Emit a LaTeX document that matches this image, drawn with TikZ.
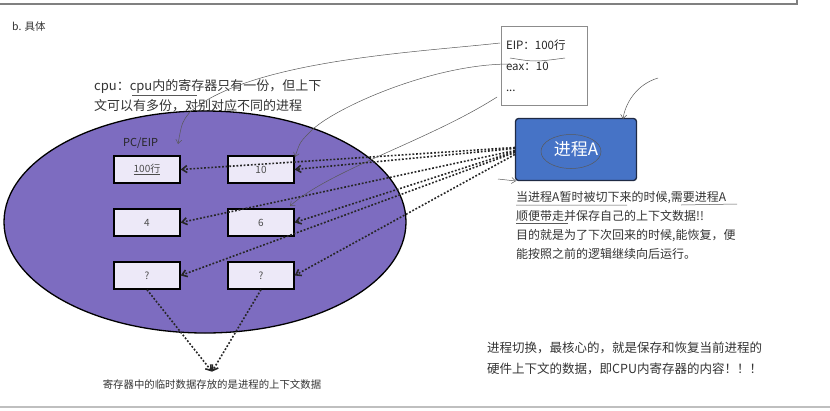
\documentclass[tikz,border=0pt]{standalone}
\usepackage{fontspec}
\setmainfont{Noto Sans CJK SC}
\usetikzlibrary{positioning, arrows.meta, shapes.geometric}
\definecolor{cpupurple}{HTML}{7D6CC0}
\definecolor{reglilac}{HTML}{EDE9F8}
\definecolor{procblue}{HTML}{4673C6}
\definecolor{procdark}{HTML}{1F2A44}
\definecolor{textgray}{HTML}{333333}

\begin{document}
\begin{tikzpicture}[x=1pt, y=-1pt, node distance=53pt and 114pt, on grid,
    reg/.style={draw=black, line width=1.3pt, fill=reglilac, minimum width=66pt,
      minimum height=27pt, inner sep=0pt, font=\fontsize{10}{10}\selectfont, text=black!70},
    ctx/.style={-{Straight Barb[length=5pt, width=7pt]}, dash pattern=on 1.8pt off 1.8pt,
      line width=1.6pt, black!85},
    note/.style={align=left, inner sep=0pt, anchor=north west, text=textgray},
    scribble/.style={draw=black!65, line width=0.5pt},
    hook/.style={scribble, -{Straight Barb[length=4pt, width=6pt]}}]
  \useasboundingbox (0,0) rectangle (830,410);

  % frame of the page
  \draw[black!50, line width=1.2pt] (0,4) -- (797,4) -- (797,0);
  \draw[black!25, line width=2pt] (0,407) -- (830,407);

  \node[note, anchor=west, font=\fontsize{10.5}{10.5}\selectfont] (title) at (12,27) {b. 具体};
  \node[note, font=\fontsize{13}{20}\selectfont] (cpunote) at (94,79.5)
    {cpu：cpu内的寄存器只有一份，但上下\\文可以有多份，对别对应不同的进程};

  % the cpu and its registers
  \node[ellipse, draw=black, line width=1.3pt, fill=cpupurple, minimum width=402pt,
    minimum height=222pt] (cpu) at (205,222) {};
  \node[note, anchor=west, font=\fontsize{11}{11}\selectfont, text=black!85] (pclabel) at (123,143) {PC/EIP};
  \node[reg] (reg1) at (147,169.5) {\underline{100行}};
  \node[reg] (reg2) [right=of reg1] {10};
  \node[reg] (reg3) [below=of reg1] {4};
  \node[reg] (reg4) [right=of reg3] {6};
  \node[reg] (reg5) [below=of reg3] {?};
  \node[reg] (reg6) [right=of reg5] {?};
  \node[font=\fontsize{10.4}{10.4}\selectfont, text=textgray] (ctxnote) at (212,385)
    {寄存器中的临时数据存放的是进程的上下文数据};

  % saved context and process
  \node[draw=black!45, line width=0.8pt, minimum width=86pt, minimum height=79pt,
    text width=76pt, align=left, font=\fontsize{11.5}{21}\selectfont, text=black!85]
    (ctxbox) at (544,66) {EIP：100行\\eax：10\\...};
  \node[draw=procdark, fill=procblue, line width=1.3pt, rounded corners=3pt,
    minimum width=121pt, minimum height=62pt, text=white,
    font=\fontsize{17}{17}\selectfont] (procA) at (576,149.5) {进程A};
  \node[note, font=\fontsize{12}{19}\selectfont] (savenote) at (516,191.5)
    {当进程A暂时被切下来的时候,需要进程A\\顺便带走并保存自己的上下文数据!!\\
     目的就是为了下次回来的时候,能恢复，便\\能按照之前的逻辑继续向后运行。};
  \node[note, font=\fontsize{12.5}{21}\selectfont] (switchnote) at (487,342)
    {进程切换，最核心的，就是保存和恢复当前进程的\\硬件上下文的数据，即CPU内寄存器的内容！！！};

  % context goes into the registers
  \path[ctx]
    ([yshift=2pt]procA.west) edge (reg1.east)
    ([yshift=1pt]procA.west) edge (reg2.east)
    ([yshift=-1pt]procA.west) edge (reg3.east)
    ([yshift=-2pt]procA.west) edge (reg4.east)
    ([yshift=-3pt]procA.west) edge (reg5.east)
    ([yshift=-5pt]procA.west) edge (reg6.east);
  \path[ctx]
    (reg5.south) edge ([yshift=5pt]ctxnote.north)
    (reg6.south) edge ([yshift=5pt]ctxnote.north);

  % hand marks
  \draw[hook] (500,43) .. controls (420,52) and (250,60) .. (190,112) .. controls (182,122) .. (178,144);
  \draw[hook] (510,64) .. controls (430,64) and (330,110) .. (310,132) .. controls (300,142) .. (295,157);
  \draw[hook] (497,97) .. controls (430,140) and (330,170) .. (290,206);
  \draw[hook] (658,78) .. controls (635,85) and (625,105) .. (623,119);
  \draw[hook] (498,179) -- (516,181);
  \draw[scribble] (procA.center) ++(-5,2) ellipse [x radius=30, y radius=17];
  \draw[scribble] (510,58) .. controls (535,62) .. (565,58);
  \draw[scribble] (132,95) -- (197,95);
  \draw[scribble] (516,205) -- (627,205) (681,205) -- (737,204);
  \draw[scribble] (516,223) -- (568,223);
\end{tikzpicture}
\end{document}
